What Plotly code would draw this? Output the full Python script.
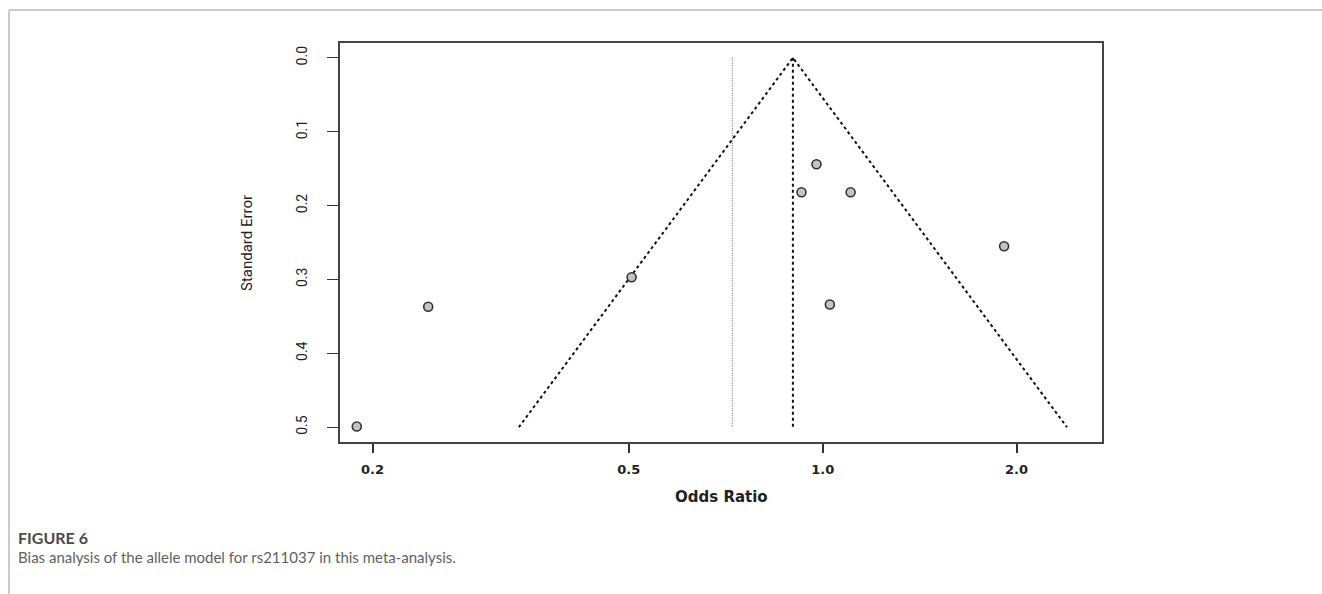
import numpy as np
import plotly.graph_objects as go

# Study estimates: odds ratios and their standard errors
odds_ratios = [0.978, 0.927, 1.105, 1.913, 1.026, 0.505, 0.244, 0.189]
std_errors = [0.144, 0.182, 0.182, 0.255, 0.334, 0.297, 0.337, 0.499]

# Pooled estimates (fixed effect drives the funnel, random effect drawn dotted)
fixed_or = 0.899
random_or = 0.724
se_span = [0.0, 0.5]

x_ticks = [0.2, 0.5, 1.0, 2.0]
x_tick_text = ["0.2", "0.5", "1.0", "2.0"]
y_ticks = [0.0, 0.1, 0.2, 0.3, 0.4, 0.5]
y_tick_text = ["0.0", "0.1", "0.2", "0.3", "0.4", "0.5"]

W, H = 1322, 594
L, R, T, B = 340, 1102, 43, 442  # plot box in pixels

NARROW = "Roboto, Liberation Sans Narrow, DejaVu Sans Condensed, sans-serif"


def px_x(p):
    return (p - L) / (R - L)


def px_y(p):
    return (B - p) / (B - T)


# 95% pseudo-confidence limits around the fixed-effect estimate
z = 1.96
funnel_se = [se_span[1], se_span[0], se_span[1]]
funnel_or = [
    float(np.exp(np.log(fixed_or) - z * se_span[1])),
    fixed_or,
    float(np.exp(np.log(fixed_or) + z * se_span[1])),
]

fig = go.Figure()

fig.add_trace(go.Scatter(
    x=funnel_or, y=funnel_se, mode="lines",
    line=dict(color="#111111", width=2, dash="3px,3px"),
    hoverinfo="skip", showlegend=False,
))
fig.add_trace(go.Scatter(
    x=[fixed_or, fixed_or], y=se_span, mode="lines",
    line=dict(color="#111111", width=2, dash="3px,3px"),
    hoverinfo="skip", showlegend=False,
))
fig.add_trace(go.Scatter(
    x=[random_or, random_or], y=se_span, mode="lines",
    line=dict(color="#777777", width=1.2, dash="1px,1.5px"),
    hoverinfo="skip", showlegend=False,
))
fig.add_trace(go.Scatter(
    x=odds_ratios, y=std_errors, mode="markers",
    marker=dict(symbol="circle", size=9, color="#c4c4c4",
                line=dict(color="#333333", width=1.6)),
    showlegend=False,
))

fig.update_xaxes(
    type="log",
    range=[np.log10(0.178), np.log10(2.715)],
    tickvals=x_ticks, ticktext=x_tick_text,
    ticks="outside", ticklen=9, tickwidth=1.5, tickcolor="#333333",
    ticklabelstandoff=5,
    tickfont=dict(family="DejaVu Sans", size=13, color="#222222", weight="bold"),
    showline=True, linecolor="#444444", linewidth=2, mirror=True,
    showgrid=False, zeroline=False,
)
fig.update_yaxes(
    range=[0.52, -0.02],
    tickvals=y_ticks, ticktext=y_tick_text,
    ticks="outside", ticklen=11, tickwidth=1.2, tickcolor="#333333",
    tickangle=-90, ticklabelstandoff=14,
    tickfont=dict(family=NARROW, size=14, color="#222222"),
    showline=True, linecolor="#444444", linewidth=2, mirror=True,
    showgrid=False, zeroline=False,
)

annotations = [
    dict(text="Standard Error", x=px_x(247), y=px_y(243), xref="paper", yref="paper",
         textangle=-90, showarrow=False, xanchor="center", yanchor="middle",
         font=dict(family=NARROW, size=15, color="#222222")),
    dict(text="Odds Ratio", x=px_x(721), y=px_y(497), xref="paper", yref="paper",
         showarrow=False, xanchor="center", yanchor="middle",
         font=dict(family="DejaVu Sans", size=15, color="#222222", weight="bold")),
    dict(text="FIGURE 6", x=px_x(16), y=px_y(537), xref="paper", yref="paper",
         showarrow=False, xanchor="left", yanchor="middle",
         font=dict(family="Lato", size=16, color="#4a4a4a", weight="bold")),
    dict(text="Bias analysis of the allele model for rs211037 in this meta-analysis.",
         x=px_x(16), y=px_y(557), xref="paper", yref="paper",
         showarrow=False, xanchor="left", yanchor="middle",
         font=dict(family="Lato", size=15, color="#5f5f5f")),
]

shapes = [
    dict(type="line", xref="paper", yref="paper",
         x0=px_x(9), x1=px_x(W), y0=px_y(10), y1=px_y(10),
         line=dict(color="#cccccc", width=2)),
    dict(type="line", xref="paper", yref="paper",
         x0=px_x(9), x1=px_x(9), y0=px_y(10), y1=px_y(H),
         line=dict(color="#cccccc", width=2)),
]

fig.update_layout(
    width=W, height=H, autosize=False,
    margin=dict(l=L, r=W - R, t=T, b=H - B),
    paper_bgcolor="white", plot_bgcolor="white",
    annotations=annotations, shapes=shapes,
    showlegend=False,
)

fig.write_html("out.html")
